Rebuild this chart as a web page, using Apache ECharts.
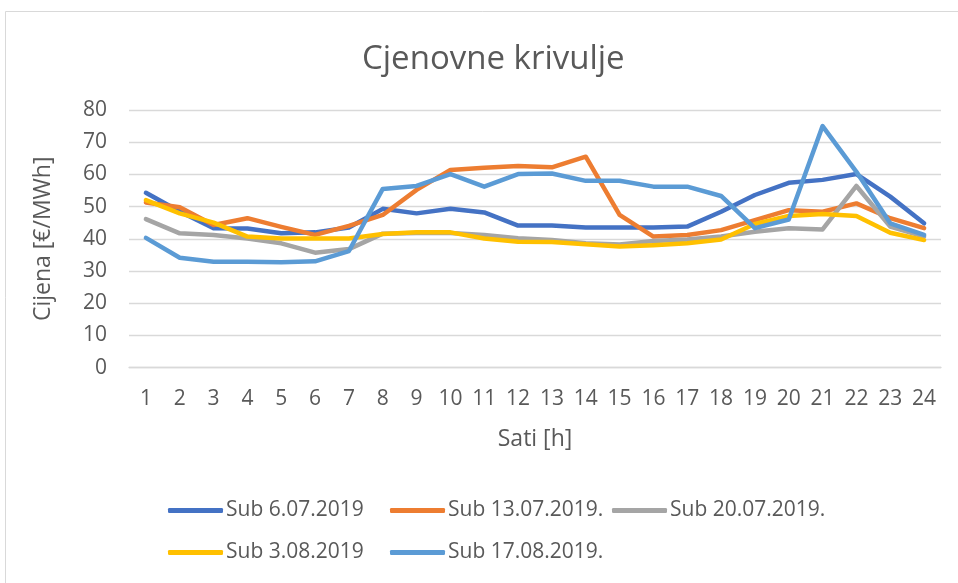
<!DOCTYPE html>
<html>
<head>
<meta charset="utf-8">
<script src="https://cdn.jsdelivr.net/npm/echarts@6/dist/echarts.min.js"></script>
<style>
html,body{margin:0;padding:0;background:#fff;}
#chart{width:958px;height:583px;}
</style>
</head>
<body>
<div id="chart"></div>
<script>
const hours = ['1','2','3','4','5','6','7','8','9','10','11','12','13','14','15','16','17','18','19','20','21','22','23','24'];
const seriesNames = ['Sub 6.07.2019','Sub 13.07.2019.','Sub 20.07.2019.','Sub 3.08.2019','Sub 17.08.2019.'];
const sub0607 = [54.3,48.5,43.3,43.2,41.7,42.0,43.5,49.3,47.9,49.3,48.2,44.1,44.1,43.5,43.5,43.5,43.8,48.4,53.6,57.4,58.3,60.1,53.1,44.8];
const sub1307 = [51.3,49.8,44.3,46.4,43.7,41.2,44.0,47.4,55.2,61.4,62.1,62.6,62.2,65.5,47.4,40.7,41.2,42.7,45.8,48.9,48.4,51.0,46.4,43.3];
const sub2007 = [46.1,41.7,41.2,40.1,38.6,35.7,36.8,41.6,41.8,41.8,41.2,40.2,39.6,38.6,38.2,39.3,39.8,40.7,42.2,43.3,42.9,56.4,43.8,40.7];
const sub0308 = [52.0,47.9,45.0,40.7,40.1,40.1,40.1,41.5,42.0,42.0,40.1,39.1,39.0,38.3,37.6,38.0,38.6,39.8,44.6,47.1,47.7,47.1,41.9,39.6];
const sub1708 = [40.3,34.1,32.9,32.9,32.7,33.0,36.2,55.5,56.4,60.1,56.2,60.1,60.3,58.0,58.0,56.2,56.2,53.3,43.3,46.0,75.0,60.8,44.8,41.2];
const yTicks = {min:0, max:80, interval:10};
const colors = ['#4472C4','#ED7D31','#A5A5A5','#FFC000','#5B9BD5'];
const allData = [sub0607, sub1307, sub2007, sub0308, sub1708];

const FONT = 'Open Sans';
const txt = '#595959';

const legendPos = [[163,495],[385,495],[607,495],[163,537],[385,537]];
const legends = seriesNames.map((n,i)=>({
  data:[n], left:legendPos[i][0], top:legendPos[i][1],
  icon:'roundRect', itemWidth:55, itemHeight:5, itemGap:0,
  textStyle:{color:txt, fontFamily:FONT, fontSize:21, padding:[0,0,0,-2]}
}));

const chart = echarts.init(document.getElementById('chart'), null, {renderer:'canvas'});
chart.setOption({
  backgroundColor:'#fff',
  animation:false,
  color:colors,
  title:{text:'Cjenovne krivulje', left:357, top:38,
    textStyle:{color:txt, fontFamily:FONT, fontSize:33, fontWeight:'normal'}},
  graphic:[{type:'polyline', silent:true, shape:{points:[[5.5,600],[5.5,11.5],[960,11.5]]},
    style:{stroke:'#d9d9d9', lineWidth:1, fill:null}}],
  legend:legends,
  grid:{left:129, right:17, top:110, bottom:215.4, containLabel:false},
  xAxis:{type:'category', data:hours, boundaryGap:true,
    name:'Sati [h]', nameLocation:'middle', nameGap:60,
    nameTextStyle:{color:txt, fontFamily:FONT, fontSize:23},
    axisLine:{lineStyle:{color:'#d9d9d9', width:1.3}},
    axisTick:{show:false},
    axisLabel:{color:txt, fontFamily:FONT, fontSize:21, margin:21, interval:0}},
  yAxis:{type:'value', min:yTicks.min, max:yTicks.max, interval:yTicks.interval,
    name:'Cijena [€/MWh]', nameLocation:'middle', nameGap:74,
    nameTextStyle:{color:txt, fontFamily:FONT, fontSize:23},
    axisLine:{show:false}, axisTick:{show:false},
    splitLine:{lineStyle:{color:'#d9d9d9', width:1.3}},
    axisLabel:{color:txt, fontFamily:FONT, fontSize:21, margin:22}},
  series:seriesNames.map((n,i)=>({
    name:n, type:'line', data:allData[i], symbol:'none', showSymbol:false,
    lineStyle:{width:4.5, color:colors[i], cap:'round', join:'round'},
    itemStyle:{color:colors[i]}
  }))
});
</script>
</body>
</html>
